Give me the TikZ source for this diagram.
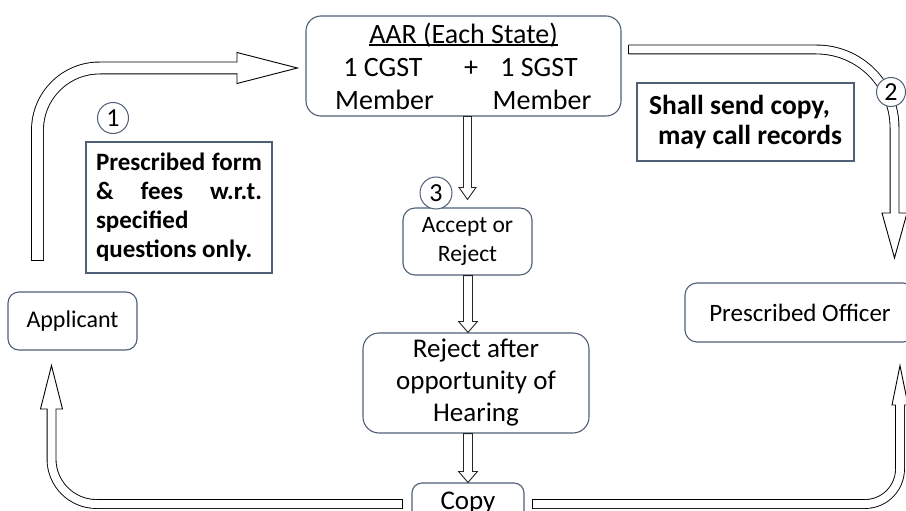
\documentclass[tikz,border=0pt]{standalone}
\usepackage{fontspec}
\setmainfont{Carlito}
\usetikzlibrary{calc}
\definecolor{boxline}{HTML}{4F5F75}
\newcommand\myul[1]{\setbox0\hbox{#1}\rlap{\rule[-2.5pt]{\wd0}{1.3pt}}\box0}
\tikzset{
  rbox/.style={draw=boxline, line width=1.1pt, rounded corners=13pt, align=center, inner sep=0pt, fill=white},
  notebox/.style={draw=boxline, line width=1.1pt, inner sep=0pt, fill=white},
  numcirc/.style={draw=boxline, line width=1pt, circle, inner sep=0pt, fill=white, font=\fontsize{26}{30}\selectfont},
  shaft/.style={draw=black, line width=0.9pt, double=white},
  headshape/.style={fill=white, draw=black, line width=0.9pt, line join=miter},
  hollow/.style={fill=white, draw=black!85, line width=0.9pt, line join=miter},
  tailcap/.style={draw=black, line width=0.9pt},
}
\begin{document}
\begin{tikzpicture}[x=1pt,y=-1pt]
\useasboundingbox (0,0) rectangle (906,511);
\clip (0,0) rectangle (906,511);

% boxes
\node[rbox, minimum width=315pt, minimum height=100pt, rounded corners=15pt, font=\fontsize{28}{33}\selectfont] (aar) at (463.5,66)
  {\myul{AAR (Each State)}\\
   \makebox[70pt]{1 CGST}\hspace{46pt}\makebox[14pt]{+}\hspace{21pt}\makebox[80pt]{1 SGST}\\
   \makebox[100pt]{Member}\hspace{57pt}\makebox[101pt]{Member}};
\node[rbox, minimum width=129pt, minimum height=67pt, rounded corners=12pt, font=\fontsize{23.5}{29}\selectfont] (acc) at (467.5,241.5) {Accept or\\Reject};
\node[rbox, minimum width=226pt, minimum height=100pt, rounded corners=16pt, font=\fontsize{27}{32}\selectfont] (rej) at (476,383) {Reject after\\opportunity of\\Hearing};
\node[rbox, minimum width=112pt, minimum height=40pt, rounded corners=10pt, text height=17pt, text depth=5pt, font=\fontsize{27}{32}\selectfont] (copy) at (468,503) {Copy};
\node[rbox, minimum width=230pt, minimum height=59pt, rounded corners=12pt, font=\fontsize{25}{30}\selectfont] (po) at (800,312.5) {Prescribed Officer};
\node[rbox, minimum width=129pt, minimum height=58pt, rounded corners=11pt, font=\fontsize{24}{29}\selectfont] (app) at (72.5,321) {Applicant};

% notes
\node[notebox, minimum width=186pt, minimum height=131pt, align=left, font=\bfseries\fontsize{25}{29}\selectfont] (n1) at (179,207.5)
  {\hbox to 166pt{Prescribed\hfill form}\\
   \hbox to 166pt{\&\hfill fees\hfill w.r.t.}\\
   specified\\
   questions only.};
\node[notebox, minimum width=217pt, minimum height=78pt, align=left, font=\bfseries\fontsize{27.5}{30}\selectfont] (n2) at (745.5,122)
  {Shall send copy,\\\hspace*{9pt}may call records};

% arrow A: Applicant -> AAR
\coordinate (aTail) at (37.5,260);
\coordinate (aBase) at (237,68);
\coordinate (aTip) at ($(aar.west)+(-8,2)$);
\draw[shaft, double distance=11pt, rounded corners=62pt] (aTail) -- (aTail |- aBase) -- (aBase);
\draw[tailcap] ($(aTail)+(-6.4,0)$) -- ($(aTail)+(6.4,0)$);
\path[headshape] ($(aBase)+(0,-5.5)$) -- ($(aBase)+(0,-15.5)$) -- (aTip) -- ($(aBase)+(0,15.5)$) -- ($(aBase)+(0,5.5)$);

% arrow B: AAR -> Prescribed Officer
\coordinate (bTail) at ($(aar.east)+(7,-16.5)$);
\coordinate (bBase) at (894.5,213);
\coordinate (bTip) at (894.5,258);
\draw[shaft, double distance=8pt, rounded corners=78pt] (bTail) -- (bTail -| bBase) -- (bBase);
\draw[tailcap] ($(bTail)+(0,-4.9)$) -- ($(bTail)+(0,4.9)$);
\path[headshape] ($(bBase)+(-4,0)$) -- ($(bBase)+(-12.5,0)$) -- (bTip) -- ($(bBase)+(12.5,0)$) -- ($(bBase)+(4,0)$);

% arrow C: AAR -> Accept or Reject
\coordinate (cTail) at (acc.north |- aar.south);
\coordinate (cTip) at ($(acc.north)+(0,-8)$);
\coordinate (cBase) at ($(cTip)+(0,-12)$);
\draw[hollow] ($(cTail)+(-4,0)$) -- ($(cBase)+(-4,0)$) -- ($(cBase)+(-8.5,0)$) -- (cTip)
  -- ($(cBase)+(8.5,0)$) -- ($(cBase)+(4,0)$) -- ($(cTail)+(4,0)$) -- cycle;

% arrow D: Accept or Reject -> Reject after
\coordinate (dTail) at ($(acc.south)+(0.5,0)$);
\coordinate (dTip) at (dTail |- rej.north);
\coordinate (dBase) at ($(dTip)+(0,-11)$);
\draw[hollow] ($(dTail)+(-4.5,0)$) -- ($(dBase)+(-4.5,0)$) -- ($(dBase)+(-9.5,0)$) -- (dTip)
  -- ($(dBase)+(9.5,0)$) -- ($(dBase)+(4.5,0)$) -- ($(dTail)+(4.5,0)$) -- cycle;

% arrow E: Reject after -> Copy
\coordinate (eTail) at (dTail |- rej.south);
\coordinate (eTip) at (dTail |- copy.north);
\coordinate (eBase) at ($(eTip)+(0,-11)$);
\draw[hollow] ($(eTail)+(-4.5,0)$) -- ($(eBase)+(-4.5,0)$) -- ($(eBase)+(-9.5,0)$) -- (eTip)
  -- ($(eBase)+(9.5,0)$) -- ($(eBase)+(4.5,0)$) -- ($(eTail)+(4.5,0)$) -- cycle;

% arrow F: Copy -> Applicant
\coordinate (fTail) at ($(copy.west)+(-9,1)$);
\coordinate (fBase) at (51.5,409);
\coordinate (fTip) at ($(app.south)+(-21,15)$);
\draw[shaft, double distance=8pt, rounded corners=45pt] (fTail) -- (fTail -| fBase) -- (fBase);
\draw[tailcap] ($(fTail)+(0,-4.9)$) -- ($(fTail)+(0,4.9)$);
\path[headshape] ($(fBase)+(-4,0)$) -- ($(fBase)+(-11,0)$) -- (fTip -| fBase) -- ($(fBase)+(11,0)$) -- ($(fBase)+(4,0)$);

% arrow G: Copy -> Prescribed Officer
\coordinate (gTail) at ($(copy.east)+(8,1)$);
\coordinate (gBase) at (900,405);
\coordinate (gTip) at ($(po.south)+(100,23)$);
\draw[shaft, double distance=8pt, rounded corners=35pt] (gTail) -- (gTail -| gBase) -- (gBase);
\draw[tailcap] ($(gTail)+(0,-4.9)$) -- ($(gTail)+(0,4.9)$);
\path[headshape] ($(gBase)+(-4,0)$) -- ($(gBase)+(-8,0)$) -- (gTip) -- ($(gBase)+(8,0)$) -- ($(gBase)+(4,0)$);

% number circles
\node[numcirc, minimum size=31pt] (c1) at (113,118) {1};
\node[numcirc, minimum size=29pt] (c2) at (891,92) {2};
\node[numcirc, minimum size=32pt] (c3) at (436,193) {3};
\end{tikzpicture}
\end{document}
